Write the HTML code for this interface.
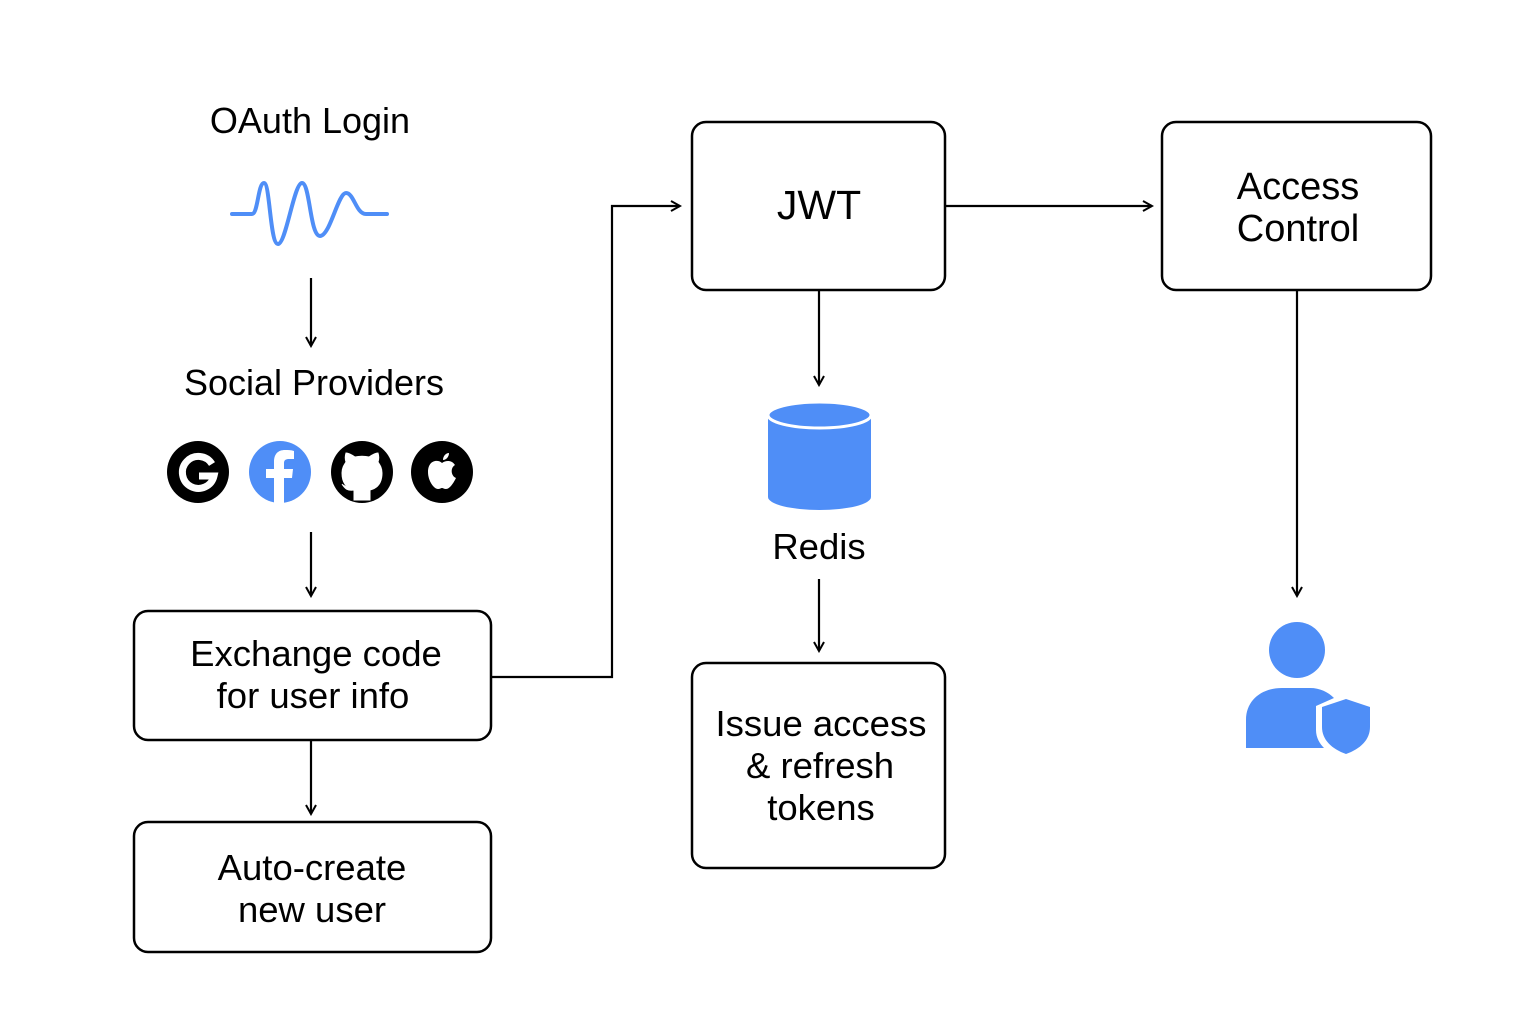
<!DOCTYPE html>
<html><head><meta charset="utf-8"><style>
html,body{margin:0;padding:0;background:#fff}
svg{display:block}
text{font-family:"Liberation Sans",sans-serif;fill:#000}
</style></head><body>
<svg width="1536" height="1024" viewBox="0 0 1536 1024" xmlns="http://www.w3.org/2000/svg">
<defs>
<marker id="a" markerWidth="12" markerHeight="12" refX="10" refY="6" orient="auto" markerUnits="userSpaceOnUse">
<path d="M1,1 L10,6 L1,11" fill="none" stroke="#000" stroke-width="2"/>
</marker>
</defs>
<g font-size="36" text-anchor="middle">
<text x="310" y="133">OAuth Login</text>
<text x="314" y="395">Social Providers</text>
</g>
<path d="M232,214 L252,214 C258,214 258,183 264,183 C270,183 270,244 278,244 C286,244 294,183 302,183 C310,183 310,236 320,236 C330,236 338,193 346,193 C354,193 356,214 366,214 L387,214" fill="none" stroke="#4f8ef7" stroke-width="4" stroke-linecap="round"/>
<circle cx="198" cy="472" r="31" fill="#000"/>
<path d="M212,464 A16,16 0 1 0 214,476 L199,476" fill="none" stroke="#fff" stroke-width="7"/>
<circle cx="280" cy="472" r="31" fill="#4f8ef7"/>
<path d="M284,503 L284,478 L292,478 L293,469 L284,469 L284,463 C284,460 286,459 289,459 L294,459 L294,451 C291,450 288,450 285,450 C278,450 274,454 274,462 L274,469 L266,469 L266,478 L274,478 L274,503 Z" fill="#fff"/>
<circle cx="362" cy="472" r="31" fill="#000"/>
<path d="M354,500 L354,490 C346,488 342,482 342,473 C342,468 344,465 346,462 C345,459 345,456 346,453 C349,453 352,455 355,457 C359,456 365,456 369,457 C372,455 375,453 378,453 C379,456 379,459 378,462 C380,465 382,468 382,473 C382,482 378,488 370,490 L370,500 Z M354,490 C348,491 345,489 342,484" fill="#fff" stroke="#fff" stroke-width="1"/>
<circle cx="442" cy="472" r="31" fill="#000"/>
<path d="M442,463 C438,459 428,460 428,472 C428,481 434,489 438,489 C440,489 441,488 442,488 C443,488 444,489 446,489 C450,489 454,482 456,478 C451,476 450,468 455,465 C452,460 446,460 442,463 Z M443,460 C443,456 446,453 449,453 C449,457 446,460 443,460 Z" fill="#fff"/>
<g fill="none" stroke="#000" stroke-width="2.5">
<rect x="692" y="122" width="253" height="168" rx="14"/>
<rect x="1162" y="122" width="269" height="168" rx="14"/>
<rect x="134" y="611" width="357" height="129" rx="14"/>
<rect x="134" y="822" width="357" height="130" rx="14"/>
<rect x="692" y="663" width="253" height="205" rx="14"/>
</g>
<g font-size="36.5" text-anchor="middle">
<text x="819" y="219" font-size="41">JWT</text>
<text x="1298" y="199" font-size="38">Access</text>
<text x="1298" y="241" font-size="38">Control</text>
<text x="316" y="666">Exchange code</text>
<text x="313" y="708">for user info</text>
<text x="312" y="880">Auto-create</text>
<text x="312" y="922">new user</text>
<text x="821" y="736">Issue access</text>
<text x="820" y="778">&amp; refresh</text>
<text x="821" y="820">tokens</text>
<text x="819" y="559">Redis</text>
</g>
<path d="M768,415 L768,497 A51.5,13 0 0 0 871,497 L871,415 Z" fill="#4f8ef7"/>
<ellipse cx="819.5" cy="415" rx="51.5" ry="13" fill="#4f8ef7" stroke="#fff" stroke-width="3"/>
<circle cx="1297" cy="650" r="28" fill="#4f8ef7"/>
<path d="M1246,748 L1246,720 C1246,700 1262,688 1282,688 L1310,688 C1320,688 1328,692 1334,698 L1316,706 L1316,730 C1316,738 1320,744 1324,748 Z" fill="#4f8ef7"/>
<path d="M1322,707 L1346,699 L1370,707 L1370,727 C1370,740 1360,749 1346,754 C1332,749 1322,740 1322,727 Z" fill="#4f8ef7"/>
<g fill="none" stroke="#000" stroke-width="2.2" marker-end="url(#a)">
<path d="M311,278 L311,346"/>
<path d="M311,532 L311,596"/>
<path d="M311,741 L311,814"/>
<path d="M491,677 L612,677 L612,206 L680,206"/>
<path d="M945,206 L1152,206"/>
<path d="M819,291 L819,385"/>
<path d="M819,579 L819,651"/>
<path d="M1297,291 L1297,596"/>
</g>
</svg>
</body></html>
